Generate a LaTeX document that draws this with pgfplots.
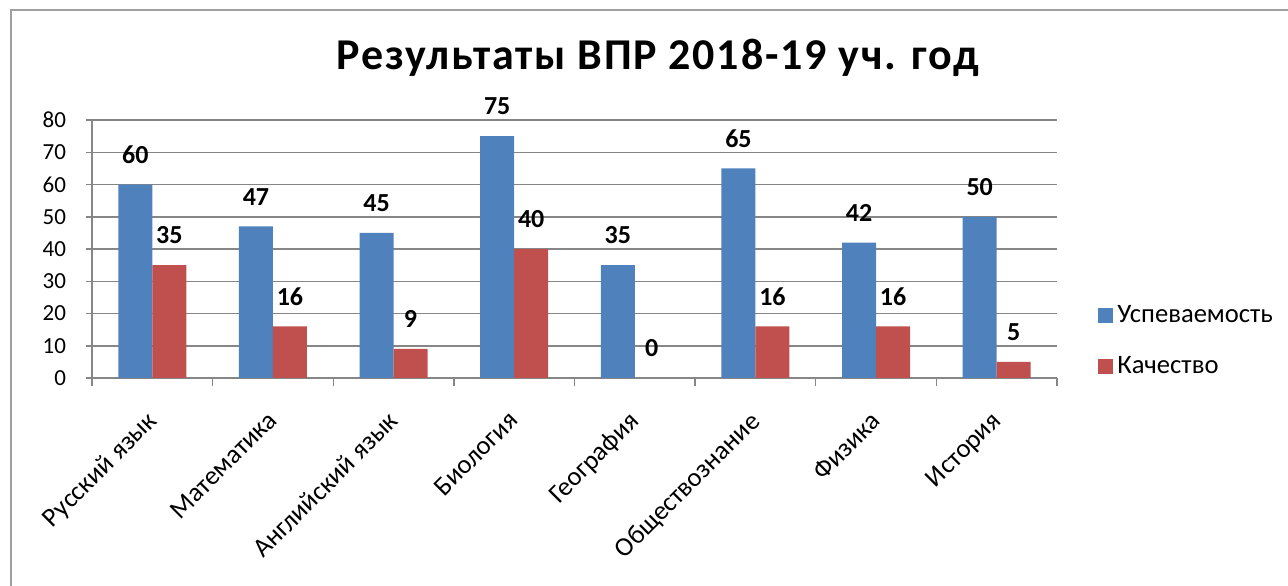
\documentclass[border=0pt]{standalone}
\usepackage{pgfplots}
\pgfplotsset{compat=1.18}
\usepackage{fontspec}
\setmainfont{Carlito}
\definecolor{blueS}{HTML}{4F81BD}
\definecolor{redS}{HTML}{C0504D}
\definecolor{gridc}{HTML}{868686}
\begin{document}
\begin{tikzpicture}
\useasboundingbox (0bp,0bp) rectangle (644bp,293bp);
\draw[color=gray!75, line width=1.2bp] (5.5bp,-5bp) -- (5.5bp,288bp) -- (650bp,288bp);
\node[anchor=base, inner sep=0pt, font=\bfseries\fontsize{22bp}{26bp}\selectfont\addfontfeatures{LetterSpace=4}] at (329bp,258bp) {Результаты ВПР 2018-19 уч. год};
\begin{axis}[
  at={(46bp,104bp)}, anchor=south west,
  scale only axis, width=482.5bp, height=129bp,
  ybar, bar width=17bp,
  ymin=0, ymax=80, ytick={0,10,...,80},
  xmin=-0.5, xmax=7.5,
  xtick={0,...,7},
  xticklabels={Русский язык,Математика,Английский язык,Биология,География,Обществознание,Физика,История},
  minor xtick={-0.5,0.5,...,7.5},
  axis x line*=bottom, axis y line*=left,
  axis line style={gridc, line width=0.75bp, -},
  ymajorgrids, grid style={gridc, line width=0.75bp},
  tick align=outside,
  major tick length=3bp, minor tick length=4bp,
  tick style={gridc, line width=0.75bp},
  major x tick style={draw=none},
  /pgf/number format/assume math mode=true,
  yticklabel style={font=\fontsize{11.5bp}{13bp}\selectfont, xshift=-6.5bp},
  xticklabel style={font=\fontsize{13.3bp}{15bp}\selectfont, rotate=45, anchor=north east, inner sep=0pt, xshift=-11.4bp, yshift=-6.6bp},
  nodes near coords,
  nodes near coords style={font=\bfseries\fontsize{13bp}{15bp}\selectfont, text=black, yshift=7bp},
  legend style={at={(1.0425,0.145)}, anchor=west, draw=none, fill=none, inner sep=0pt,
    font=\fontsize{13.3bp}{15bp}\selectfont, row sep=11.5bp, cells={anchor=west}},
  legend image code/.code={\fill[#1, draw=none] (0bp,-3.75bp) rectangle (7.5bp,3.75bp);},
]
\addplot[fill=blueS, draw=none, bar shift=-8.5bp] coordinates {(0,60) (1,47) (2,45) (3,75) (4,35) (5,65) (6,42) (7,50)};
\addplot[fill=redS, draw=none, bar shift=8.5bp] coordinates {(0,35) (1,16) (2,9) (3,40) (4,0) (5,16) (6,16) (7,5)};
\legend{Успеваемость, Качество}
\end{axis}
\end{tikzpicture}
\end{document}
